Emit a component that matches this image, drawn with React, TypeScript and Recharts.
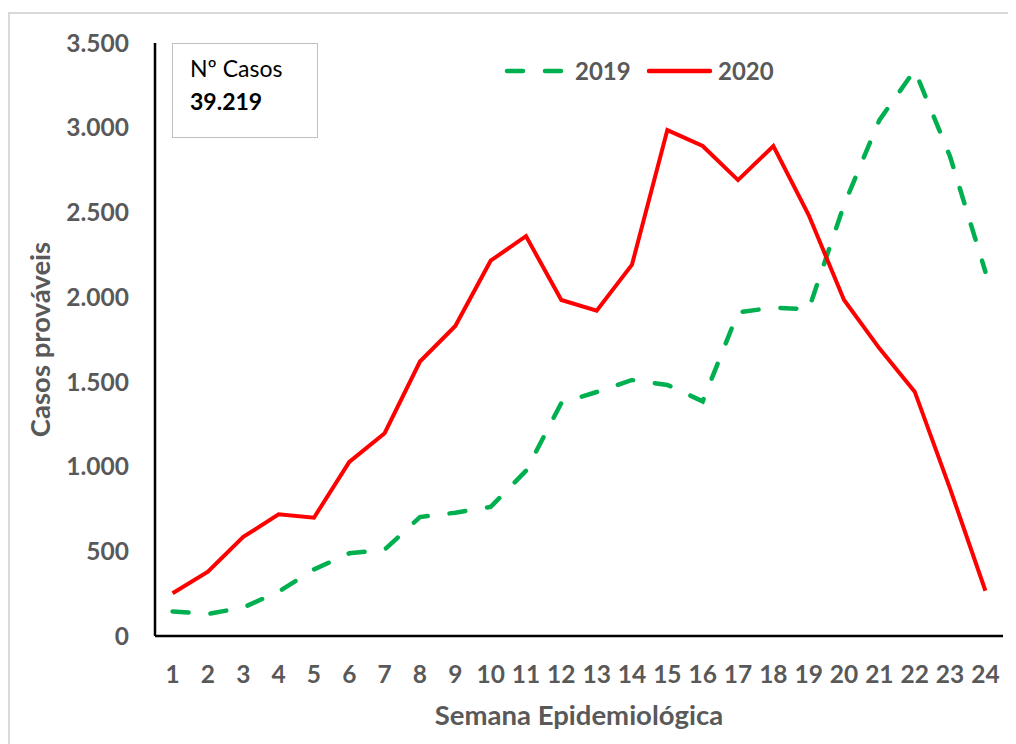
import React from 'react';
import { LineChart, Line, XAxis, YAxis, Legend } from 'recharts';

const weeks: number[] = [1, 2, 3, 4, 5, 6, 7, 8, 9, 10, 11, 12, 13, 14, 15, 16, 17, 18, 19, 20, 21, 22, 23, 24];
const cases2019: number[] = [145, 130, 168, 262, 393, 488, 510, 702, 728, 762, 975, 1375, 1440, 1511, 1482, 1385, 1910, 1938, 1928, 2545, 3045, 3340, 2830, 2150];
const cases2020: number[] = [252, 380, 585, 718, 698, 1028, 1197, 1620, 1830, 2215, 2360, 1983, 1920, 2192, 2986, 2892, 2691, 2892, 2485, 1983, 1698, 1442, 870, 267];
const yTicks: number[] = [0, 500, 1000, 1500, 2000, 2500, 3000, 3500];
const seriesNames: string[] = ['2019', '2020'];
const boxTitle = 'Nº Casos';
const boxTotal = '39.219';
const xTitle = 'Semana Epidemiológica';
const yTitle = 'Casos prováveis';

const GREEN = '#00B050';
const RED = '#FF0000';
const GREY_TEXT = '#595959';
const FONT = 'Lato, "Open Sans", sans-serif';

const data = weeks.map((w, i) => ({ week: w, s2019: cases2019[i], s2020: cases2020[i] }));

const fmt = (v: number) => String(v).replace(/\B(?=(\d{3})+(?!\d))/g, '.');

const tickStyle = { fill: GREY_TEXT, fontSize: 24.5, fontWeight: 700, fontFamily: FONT };

const renderLegend = () => (
  <svg width={300} height={40} style={{ display: 'block', overflow: 'visible' }}>
    <line x1={12} y1={20} x2={66} y2={20} stroke={GREEN} strokeWidth={4.5} strokeDasharray="16 22" strokeLinecap="round" />
    <text x={80} y={20} dy="0.36em" fill={GREY_TEXT} fontSize={24} fontWeight={700} fontFamily={FONT}>{seriesNames[0]}</text>
    <line x1={154} y1={20} x2={215} y2={20} stroke={RED} strokeWidth={4.5} strokeLinecap="round" />
    <text x={223} y={20} dy="0.36em" fill={GREY_TEXT} fontSize={24} fontWeight={700} fontFamily={FONT}>{seriesNames[1]}</text>
  </svg>
);

export default function App() {
  return (
    <div style={{ position: 'relative', width: 1008, height: 736, overflow: 'hidden', fontFamily: FONT, background: '#fff' }}>
      <div style={{ position: 'absolute', left: 0, top: 4, width: 1100, height: 900, border: '2px solid #d9d9d9', boxSizing: 'border-box' }} />
      <LineChart width={1008} height={736} data={data} margin={{ top: 35, right: 13, left: 0, bottom: 0 }} style={{ position: 'absolute', left: 0, top: 0 }}>
        <XAxis
          dataKey="week"
          type="category"
          interval={0}
          height={108}
          padding={{ left: 17.6, right: 17.6 }}
          tickLine={false}
          tickSize={0}
          tickMargin={30}
          axisLine={{ stroke: '#000', strokeWidth: 2.5 }}
          tick={tickStyle}
          label={{ value: xTitle, position: 'insideBottom', offset: 19, fill: GREY_TEXT, fontSize: 27.5, fontWeight: 700 }}
        />
        <YAxis
          type="number"
          domain={[0, 3500]}
          ticks={yTicks}
          width={147}
          tickLine={false}
          tickSize={0}
          tickMargin={26}
          tickFormatter={fmt}
          axisLine={{ stroke: '#000', strokeWidth: 2.5 }}
          tick={tickStyle}
          label={{ value: yTitle, angle: -90, position: 'insideLeft', offset: 32, fill: GREY_TEXT, fontSize: 27.5, fontWeight: 700, style: { textAnchor: 'middle' } }}
        />
        <Legend
          layout="horizontal"
          verticalAlign="middle"
          align="center"
          content={renderLegend}
          wrapperStyle={{ top: 42.5, left: 487, width: 300, height: 40 }}
        />
        <Line dataKey="s2019" name={seriesNames[0]} stroke={GREEN} strokeWidth={4.5} strokeDasharray="16 22" strokeLinecap="round" dot={false} activeDot={false} isAnimationActive={false} />
        <Line dataKey="s2020" name={seriesNames[1]} stroke={RED} strokeWidth={4} dot={false} activeDot={false} isAnimationActive={false} />
      </LineChart>
      <div style={{ position: 'absolute', left: 164, top: 35, width: 146, height: 95, border: '1.5px solid #bfbfbf', boxSizing: 'border-box', background: '#fff' }}>
        <svg width={146} height={95} style={{ position: 'absolute', left: -1.5, top: -1.5 }}>
          <text x={18} y={34.3} fill="#000" fontSize={23} fontFamily={FONT}>{boxTitle}</text>
          <text x={18} y={67} fill="#000" fontSize={23} fontWeight={700} fontFamily={FONT}>{boxTotal}</text>
        </svg>
      </div>
    </div>
  );
}
